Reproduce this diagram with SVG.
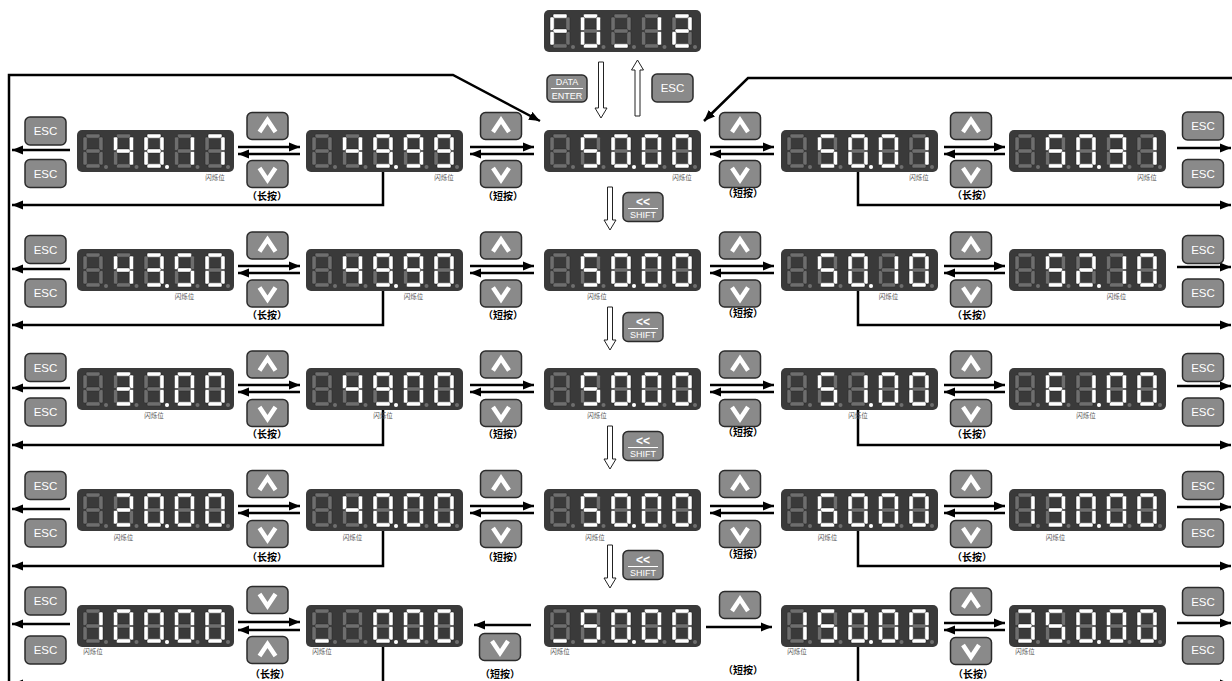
<svg xmlns="http://www.w3.org/2000/svg" xmlns:xlink="http://www.w3.org/1999/xlink" width="1232" height="681" viewBox="0 0 1232 681">
<style>
.btn{fill:#8a8a8a;stroke:#2b2b2b;stroke-width:1.5}
.chev{fill:none;stroke:#fff;stroke-width:4.5;stroke-linejoin:miter}
.bt{font-family:"Liberation Sans",Arial,sans-serif;fill:#fff;text-anchor:middle}
.esc{font-size:11.5px}
.blink{font-family:"Noto Sans CJK SC",sans-serif;font-size:6.5px;fill:#555;text-anchor:middle}
.lbl{font-family:"Noto Sans CJK SC",sans-serif;font-size:10px;font-weight:bold;fill:#000;text-anchor:middle}
.arr{fill:none;stroke:#000;stroke-width:2.5;marker-end:url(#ah)}
.on{fill:#fff}
.hol{fill:#fff;stroke:#222;stroke-width:1}
</style>
<defs>
<marker id="ah" markerUnits="userSpaceOnUse" markerWidth="11" markerHeight="10" refX="11" refY="5" orient="auto"><path d="M0,0.5 L11,5 L0,9.5 z" fill="#000"/></marker>
<rect id="sa" x="3" y="0" width="14" height="4.2" rx="1.2" stroke="#2a2a2a" stroke-width="0.5"/>
<rect id="sb" x="15.8" y="3" width="4.2" height="13.5" rx="1.2" stroke="#2a2a2a" stroke-width="0.5"/>
<rect id="sc" x="15.8" y="17.5" width="4.2" height="13.5" rx="1.2" stroke="#2a2a2a" stroke-width="0.5"/>
<rect id="sd" x="3" y="29.8" width="14" height="4.2" rx="1.2" stroke="#2a2a2a" stroke-width="0.5"/>
<rect id="se" x="0" y="17.5" width="4.2" height="13.5" rx="1.2" stroke="#2a2a2a" stroke-width="0.5"/>
<rect id="sf" x="0" y="3" width="4.2" height="13.5" rx="1.2" stroke="#2a2a2a" stroke-width="0.5"/>
<rect id="sg" x="3" y="14.9" width="14" height="4.2" rx="1.2" stroke="#2a2a2a" stroke-width="0.5"/>
<g id="n0"><use href="#sa"/><use href="#sb"/><use href="#sc"/><use href="#sd"/><use href="#se"/><use href="#sf"/></g>
<g id="n1"><use href="#sb"/><use href="#sc"/></g>
<g id="n2"><use href="#sa"/><use href="#sb"/><use href="#sg"/><use href="#se"/><use href="#sd"/></g>
<g id="n3"><use href="#sa"/><use href="#sb"/><use href="#sg"/><use href="#sc"/><use href="#sd"/></g>
<g id="n4"><use href="#sf"/><use href="#sg"/><use href="#sb"/><use href="#sc"/></g>
<g id="n5"><use href="#sa"/><use href="#sf"/><use href="#sg"/><use href="#sc"/><use href="#sd"/></g>
<g id="n6"><use href="#sa"/><use href="#sf"/><use href="#sg"/><use href="#se"/><use href="#sd"/><use href="#sc"/></g>
<g id="n7"><use href="#sa"/><use href="#sb"/><use href="#sc"/></g>
<g id="n8"><use href="#sa"/><use href="#sb"/><use href="#sc"/><use href="#sd"/><use href="#se"/><use href="#sf"/><use href="#sg"/></g>
<g id="n9"><use href="#sa"/><use href="#sb"/><use href="#sc"/><use href="#sd"/><use href="#sf"/><use href="#sg"/></g>
<g id="nF"><use href="#sa"/><use href="#sf"/><use href="#sg"/><use href="#se"/></g>
<g id="nu"><use href="#sd"/></g>
<g id="disp">
<rect width="157" height="42" rx="5" fill="#3a3a3a"/>
<g fill="#6e6e6e">
<use href="#n8" x="6" y="4"/><use href="#n8" x="36.5" y="4"/><use href="#n8" x="67" y="4"/><use href="#n8" x="97.5" y="4"/><use href="#n8" x="128" y="4"/>
<circle cx="29" cy="37" r="2"/><circle cx="59.5" cy="37" r="2"/><circle cx="90" cy="37" r="2"/><circle cx="120.5" cy="37" r="2"/><circle cx="151" cy="37" r="2"/>
</g>
</g>
<g id="bup"><rect x="-20.5" y="-13.5" width="41" height="27" rx="5" class="btn"/><polyline points="-8,6 0,-6 8,6" class="chev"/></g>
<g id="bdn"><rect x="-20.5" y="-13.5" width="41" height="27" rx="5" class="btn"/><polyline points="-8,-6 0,6 8,-6" class="chev"/></g>
<g id="besc"><rect x="-20.5" y="-14" width="41" height="28" rx="5" class="btn"/><text y="4" class="bt esc">ESC</text></g>
<g id="bshift"><rect x="-20" y="-14.5" width="40" height="29" rx="5" class="btn"/><text y="-1.5" class="bt" font-size="12" font-weight="bold">&lt;&lt;</text><line x1="-15" y1="1.5" x2="15" y2="1.5" stroke="#fff" stroke-width="1"/><text y="11" class="bt" font-size="9">SHIFT</text></g>
</defs>
<rect width="1232" height="681" fill="#fff"/>

<g id="connectors">
<path d="M9,681 V75 H453 L540,121" class="arr" stroke-width="3"/>
<path d="M1232,78 H748 L704,121" class="arr" stroke-width="3"/>
<path d="M598.5,62 H603.5 V108 H607 L601,118 L595,108 H598.5 Z" class="hol"/>
<path d="M635,116 V70 H631.5 L637.5,60 L643.5,70 H640 V116 Z" class="hol"/>
<path d="M607.5,187 H612.5 V220 H616 L610,230 L604,220 H607.5 Z" class="hol"/>
<path d="M607.5,307 H612.5 V340 H616 L610,350 L604,340 H607.5 Z" class="hol"/>
<path d="M607.5,426 H612.5 V459 H616 L610,469 L604,459 H607.5 Z" class="hol"/>
<path d="M607.5,545 H612.5 V578 H616 L610,588 L604,578 H607.5 Z" class="hol"/>
<!-- row 1 -->
<line x1="70" y1="150" x2="12" y2="150" class="arr"/>
<line x1="238" y1="147" x2="300" y2="147" class="arr"/><line x1="300" y1="154" x2="238" y2="154" class="arr"/>
<line x1="470" y1="147" x2="534" y2="147" class="arr"/><line x1="534" y1="154" x2="470" y2="154" class="arr"/>
<line x1="710" y1="147" x2="774" y2="147" class="arr"/><line x1="774" y1="154" x2="710" y2="154" class="arr"/>
<line x1="944" y1="147" x2="1005" y2="147" class="arr"/><line x1="1005" y1="154" x2="944" y2="154" class="arr"/>
<line x1="1177" y1="148" x2="1231" y2="148" class="arr"/>
<polyline points="383,172 383,205 12,205" class="arr"/>
<polyline points="858,172 858,205 1231,205" class="arr"/>
<!-- row 2 -->
<line x1="70" y1="269" x2="12" y2="269" class="arr"/>
<line x1="238" y1="266" x2="300" y2="266" class="arr"/><line x1="300" y1="273" x2="238" y2="273" class="arr"/>
<line x1="470" y1="266" x2="534" y2="266" class="arr"/><line x1="534" y1="273" x2="470" y2="273" class="arr"/>
<line x1="710" y1="266" x2="774" y2="266" class="arr"/><line x1="774" y1="273" x2="710" y2="273" class="arr"/>
<line x1="944" y1="266" x2="1005" y2="266" class="arr"/><line x1="1005" y1="273" x2="944" y2="273" class="arr"/>
<line x1="1177" y1="267" x2="1231" y2="267" class="arr"/>
<polyline points="383,291 383,325 12,325" class="arr"/>
<polyline points="858,291 858,325 1231,325" class="arr"/>
<!-- row 3 -->
<line x1="70" y1="388" x2="12" y2="388" class="arr"/>
<line x1="238" y1="385" x2="300" y2="385" class="arr"/><line x1="300" y1="392" x2="238" y2="392" class="arr"/>
<line x1="470" y1="385" x2="534" y2="385" class="arr"/><line x1="534" y1="392" x2="470" y2="392" class="arr"/>
<line x1="710" y1="385" x2="774" y2="385" class="arr"/><line x1="774" y1="392" x2="710" y2="392" class="arr"/>
<line x1="944" y1="385" x2="1005" y2="385" class="arr"/><line x1="1005" y1="392" x2="944" y2="392" class="arr"/>
<line x1="1177" y1="386" x2="1231" y2="386" class="arr"/>
<polyline points="383,410 383,445 12,445" class="arr"/>
<polyline points="858,410 858,445 1231,445" class="arr"/>
<!-- row 4 -->
<line x1="70" y1="509" x2="12" y2="509" class="arr"/>
<line x1="238" y1="506" x2="300" y2="506" class="arr"/><line x1="300" y1="513" x2="238" y2="513" class="arr"/>
<line x1="470" y1="506" x2="534" y2="506" class="arr"/><line x1="534" y1="513" x2="470" y2="513" class="arr"/>
<line x1="710" y1="506" x2="774" y2="506" class="arr"/><line x1="774" y1="513" x2="710" y2="513" class="arr"/>
<line x1="944" y1="506" x2="1005" y2="506" class="arr"/><line x1="1005" y1="513" x2="944" y2="513" class="arr"/>
<line x1="1177" y1="507" x2="1231" y2="507" class="arr"/>
<polyline points="383,531 383,566 12,566" class="arr"/>
<polyline points="858,531 858,566 1231,566" class="arr"/>
<!-- row 5 -->
<line x1="70" y1="624" x2="12" y2="624" class="arr"/>
<line x1="238" y1="622" x2="300" y2="622" class="arr"/><line x1="300" y1="630" x2="238" y2="630" class="arr"/>
<line x1="531" y1="625" x2="474" y2="625" class="arr"/>
<line x1="706" y1="627" x2="772" y2="627" class="arr"/>
<line x1="944" y1="623" x2="1005" y2="623" class="arr"/><line x1="1005" y1="630" x2="944" y2="630" class="arr"/>
<line x1="1177" y1="623" x2="1231" y2="623" class="arr"/>
<polyline points="383,647 383,684 12,684" class="arr"/>
<polyline points="858,647 858,684 1231,684" class="arr"/>
</g>

<!-- top -->
<g id="top"><g transform="translate(544,10)"><use href="#disp"/><g class="on"><use href="#nF" x="6" y="4"/><use href="#n0" x="36.5" y="4"/><use href="#nu" x="67" y="4"/><use href="#n1" x="97.5" y="4"/><use href="#n2" x="128" y="4"/></g></g></g>
<g id="btn-data"><rect x="547" y="75" width="40" height="27" rx="5" class="btn"/><text x="567" y="85" class="bt" font-size="9">DATA</text><line x1="551" y1="88.5" x2="583" y2="88.5" stroke="#fff" stroke-width="1"/><text x="567" y="99" class="bt" font-size="9">ENTER</text></g>
<g id="btn-esc-top"><use href="#besc" x="672.5" y="88"/></g>
<g id="shift1"><use href="#bshift" x="643" y="207"/></g>
<g id="shift2"><use href="#bshift" x="643" y="327"/></g>
<g id="shift3"><use href="#bshift" x="643" y="446"/></g>
<g id="shift4"><use href="#bshift" x="643" y="565"/></g>

<!-- row 1 -->
<g id="r1a" transform="translate(77,130)"><use href="#disp"/><g class="on"><use href="#n4" x="36.5" y="4"/><use href="#n8" x="67" y="4"/><circle cx="90" cy="37" r="2"/><use href="#n1" x="97.5" y="4"/><use href="#n7" x="128" y="4"/></g><text class="blink" x="138" y="50">闪烁位</text></g>
<g id="r1b" transform="translate(306,130)"><use href="#disp"/><g class="on"><use href="#n4" x="36.5" y="4"/><use href="#n9" x="67" y="4"/><circle cx="90" cy="37" r="2"/><use href="#n9" x="97.5" y="4"/><use href="#n9" x="128" y="4"/></g><text class="blink" x="138" y="50">闪烁位</text></g>
<g id="r1c" transform="translate(544,130)"><use href="#disp"/><g class="on"><use href="#n5" x="36.5" y="4"/><use href="#n0" x="67" y="4"/><circle cx="90" cy="37" r="2"/><use href="#n0" x="97.5" y="4"/><use href="#n0" x="128" y="4"/></g><text class="blink" x="138" y="50">闪烁位</text></g>
<g id="r1d" transform="translate(781,130)"><use href="#disp"/><g class="on"><use href="#n5" x="36.5" y="4"/><use href="#n0" x="67" y="4"/><circle cx="90" cy="37" r="2"/><use href="#n0" x="97.5" y="4"/><use href="#n1" x="128" y="4"/></g><text class="blink" x="138" y="50">闪烁位</text></g>
<g id="r1e" transform="translate(1009,130)"><use href="#disp"/><g class="on"><use href="#n5" x="36.5" y="4"/><use href="#n0" x="67" y="4"/><circle cx="90" cy="37" r="2"/><use href="#n3" x="97.5" y="4"/><use href="#n1" x="128" y="4"/></g><text class="blink" x="138" y="50">闪烁位</text></g>
<g id="r1-buttons">
<use href="#besc" x="45.5" y="131"/><use href="#besc" x="45.5" y="173.5"/>
<use href="#bup" x="267.5" y="126"/><use href="#bdn" x="267.5" y="174"/>
<use href="#bup" x="501" y="126"/><use href="#bdn" x="501" y="174"/>
<use href="#bup" x="740" y="126"/><use href="#bdn" x="740" y="174"/>
<use href="#bup" x="971" y="126"/><use href="#bdn" x="971" y="174"/>
<use href="#besc" x="1203" y="126"/><use href="#besc" x="1203" y="173.5"/>
<text class="lbl" x="267" y="200">（长按）</text><text class="lbl" x="503" y="200">（短按）</text><text class="lbl" x="743" y="197">（短按）</text><text class="lbl" x="972" y="199">（长按）</text>
</g>

<!-- row 2 -->
<g id="r2a" transform="translate(77,249)"><use href="#disp"/><g class="on"><use href="#n4" x="36.5" y="4"/><use href="#n3" x="67" y="4"/><circle cx="90" cy="37" r="2"/><use href="#n5" x="97.5" y="4"/><use href="#n0" x="128" y="4"/></g><text class="blink" x="107.5" y="50">闪烁位</text></g>
<g id="r2b" transform="translate(306,249)"><use href="#disp"/><g class="on"><use href="#n4" x="36.5" y="4"/><use href="#n9" x="67" y="4"/><circle cx="90" cy="37" r="2"/><use href="#n9" x="97.5" y="4"/><use href="#n0" x="128" y="4"/></g><text class="blink" x="107.5" y="50">闪烁位</text></g>
<g id="r2c" transform="translate(544,249)"><use href="#disp"/><g class="on"><use href="#n5" x="36.5" y="4"/><use href="#n0" x="67" y="4"/><circle cx="90" cy="37" r="2"/><use href="#n0" x="97.5" y="4"/><use href="#n0" x="128" y="4"/></g><text class="blink" x="53" y="50">闪烁位</text></g>
<g id="r2d" transform="translate(781,249)"><use href="#disp"/><g class="on"><use href="#n5" x="36.5" y="4"/><use href="#n0" x="67" y="4"/><circle cx="90" cy="37" r="2"/><use href="#n1" x="97.5" y="4"/><use href="#n0" x="128" y="4"/></g><text class="blink" x="107.5" y="50">闪烁位</text></g>
<g id="r2e" transform="translate(1009,249)"><use href="#disp"/><g class="on"><use href="#n5" x="36.5" y="4"/><use href="#n2" x="67" y="4"/><circle cx="90" cy="37" r="2"/><use href="#n1" x="97.5" y="4"/><use href="#n0" x="128" y="4"/></g><text class="blink" x="107.5" y="50">闪烁位</text></g>
<g id="r2-buttons">
<use href="#besc" x="45.5" y="249.5"/><use href="#besc" x="45.5" y="293"/>
<use href="#bup" x="267.5" y="245.5"/><use href="#bdn" x="267.5" y="293.5"/>
<use href="#bup" x="501" y="245.5"/><use href="#bdn" x="501" y="293.5"/>
<use href="#bup" x="740" y="245.5"/><use href="#bdn" x="740" y="293.5"/>
<use href="#bup" x="971" y="245.5"/><use href="#bdn" x="971" y="293.5"/>
<use href="#besc" x="1203" y="249.5"/><use href="#besc" x="1203" y="293"/>
<text class="lbl" x="267" y="319">（长按）</text><text class="lbl" x="503" y="319">（短按）</text><text class="lbl" x="743" y="317">（短按）</text><text class="lbl" x="972" y="319">（长按）</text>
</g>

<!-- row 3 -->
<g id="r3a" transform="translate(77,368)"><use href="#disp"/><g class="on"><use href="#n3" x="36.5" y="4"/><use href="#n7" x="67" y="4"/><circle cx="90" cy="37" r="2"/><use href="#n0" x="97.5" y="4"/><use href="#n0" x="128" y="4"/></g><text class="blink" x="77" y="50">闪烁位</text></g>
<g id="r3b" transform="translate(306,368)"><use href="#disp"/><g class="on"><use href="#n4" x="36.5" y="4"/><use href="#n9" x="67" y="4"/><circle cx="90" cy="37" r="2"/><use href="#n0" x="97.5" y="4"/><use href="#n0" x="128" y="4"/></g><text class="blink" x="77" y="50">闪烁位</text></g>
<g id="r3c" transform="translate(544,368)"><use href="#disp"/><g class="on"><use href="#n5" x="36.5" y="4"/><use href="#n0" x="67" y="4"/><circle cx="90" cy="37" r="2"/><use href="#n0" x="97.5" y="4"/><use href="#n0" x="128" y="4"/></g><text class="blink" x="53" y="50">闪烁位</text></g>
<g id="r3d" transform="translate(781,368)"><use href="#disp"/><g class="on"><use href="#n5" x="36.5" y="4"/><use href="#n1" x="67" y="4"/><circle cx="90" cy="37" r="2"/><use href="#n0" x="97.5" y="4"/><use href="#n0" x="128" y="4"/></g><text class="blink" x="77" y="50">闪烁位</text></g>
<g id="r3e" transform="translate(1009,368)"><use href="#disp"/><g class="on"><use href="#n6" x="36.5" y="4"/><use href="#n1" x="67" y="4"/><circle cx="90" cy="37" r="2"/><use href="#n0" x="97.5" y="4"/><use href="#n0" x="128" y="4"/></g><text class="blink" x="77" y="50">闪烁位</text></g>
<g id="r3-buttons">
<use href="#besc" x="45.5" y="367.5"/><use href="#besc" x="45.5" y="412"/>
<use href="#bup" x="267.5" y="364.5"/><use href="#bdn" x="267.5" y="413"/>
<use href="#bup" x="501" y="364.5"/><use href="#bdn" x="501" y="413"/>
<use href="#bup" x="740" y="364.5"/><use href="#bdn" x="740" y="413"/>
<use href="#bup" x="971" y="364.5"/><use href="#bdn" x="971" y="413"/>
<use href="#besc" x="1203" y="367.5"/><use href="#besc" x="1203" y="412"/>
<text class="lbl" x="267" y="438">（长按）</text><text class="lbl" x="503" y="438">（短按）</text><text class="lbl" x="743" y="436">（短按）</text><text class="lbl" x="972" y="438">（长按）</text>
</g>

<!-- row 4 -->
<g id="r4a" transform="translate(77,489)"><use href="#disp"/><g class="on"><use href="#n2" x="36.5" y="4"/><use href="#n0" x="67" y="4"/><circle cx="90" cy="37" r="2"/><use href="#n0" x="97.5" y="4"/><use href="#n0" x="128" y="4"/></g><text class="blink" x="46.5" y="51">闪烁位</text></g>
<g id="r4b" transform="translate(306,489)"><use href="#disp"/><g class="on"><use href="#n4" x="36.5" y="4"/><use href="#n0" x="67" y="4"/><circle cx="90" cy="37" r="2"/><use href="#n0" x="97.5" y="4"/><use href="#n0" x="128" y="4"/></g><text class="blink" x="46.5" y="51">闪烁位</text></g>
<g id="r4c" transform="translate(544,489)"><use href="#disp"/><g class="on"><use href="#n5" x="36.5" y="4"/><use href="#n0" x="67" y="4"/><circle cx="90" cy="37" r="2"/><use href="#n0" x="97.5" y="4"/><use href="#n0" x="128" y="4"/></g><text class="blink" x="51" y="51">闪烁位</text></g>
<g id="r4d" transform="translate(781,489)"><use href="#disp"/><g class="on"><use href="#n6" x="36.5" y="4"/><use href="#n0" x="67" y="4"/><circle cx="90" cy="37" r="2"/><use href="#n0" x="97.5" y="4"/><use href="#n0" x="128" y="4"/></g><text class="blink" x="46.5" y="51">闪烁位</text></g>
<g id="r4e" transform="translate(1009,489)"><use href="#disp"/><g class="on"><use href="#n1" x="6" y="4"/><use href="#n3" x="36.5" y="4"/><use href="#n0" x="67" y="4"/><circle cx="90" cy="37" r="2"/><use href="#n0" x="97.5" y="4"/><use href="#n0" x="128" y="4"/></g><text class="blink" x="46.5" y="51">闪烁位</text></g>
<g id="r4-buttons">
<use href="#besc" x="45.5" y="485.5"/><use href="#besc" x="45.5" y="533"/>
<use href="#bup" x="267.5" y="484"/><use href="#bdn" x="267.5" y="534"/>
<use href="#bup" x="501" y="484"/><use href="#bdn" x="501" y="534"/>
<use href="#bup" x="740" y="484"/><use href="#bdn" x="740" y="534"/>
<use href="#bup" x="971" y="484"/><use href="#bdn" x="971" y="534"/>
<use href="#besc" x="1203" y="485.5"/><use href="#besc" x="1203" y="533"/>
<text class="lbl" x="267" y="561">（长按）</text><text class="lbl" x="503" y="561">（短按）</text><text class="lbl" x="743" y="558">（短按）</text><text class="lbl" x="972" y="561">（长按）</text>
</g>

<!-- row 5 -->
<g id="r5a" transform="translate(77,605)"><use href="#disp"/><g class="on"><use href="#n1" x="6" y="4"/><use href="#n0" x="36.5" y="4"/><use href="#n0" x="67" y="4"/><circle cx="90" cy="37" r="2"/><use href="#n0" x="97.5" y="4"/><use href="#n0" x="128" y="4"/></g><text class="blink" x="16" y="48.5">闪烁位</text></g>
<g id="r5b" transform="translate(306,605)"><use href="#disp"/><g class="on"><use href="#nu" x="6" y="4"/><use href="#n0" x="67" y="4"/><circle cx="90" cy="37" r="2"/><use href="#n0" x="97.5" y="4"/><use href="#n0" x="128" y="4"/></g><text class="blink" x="16" y="48.5">闪烁位</text></g>
<g id="r5c" transform="translate(544,605)"><use href="#disp"/><g class="on"><use href="#nu" x="6" y="4"/><use href="#n5" x="36.5" y="4"/><use href="#n0" x="67" y="4"/><circle cx="90" cy="37" r="2"/><use href="#n0" x="97.5" y="4"/><use href="#n0" x="128" y="4"/></g><text class="blink" x="16" y="48.5">闪烁位</text></g>
<g id="r5d" transform="translate(781,605)"><use href="#disp"/><g class="on"><use href="#n1" x="6" y="4"/><use href="#n5" x="36.5" y="4"/><use href="#n0" x="67" y="4"/><circle cx="90" cy="37" r="2"/><use href="#n0" x="97.5" y="4"/><use href="#n0" x="128" y="4"/></g><text class="blink" x="16" y="48.5">闪烁位</text></g>
<g id="r5e" transform="translate(1009,605)"><use href="#disp"/><g class="on"><use href="#n3" x="6" y="4"/><use href="#n5" x="36.5" y="4"/><use href="#n0" x="67" y="4"/><circle cx="90" cy="37" r="2"/><use href="#n0" x="97.5" y="4"/><use href="#n0" x="128" y="4"/></g><text class="blink" x="16" y="48.5">闪烁位</text></g>
<g id="r5-buttons">
<use href="#besc" x="45.5" y="601"/><use href="#besc" x="45.5" y="650"/>
<use href="#bdn" x="267.5" y="600"/><use href="#bup" x="267.5" y="650"/>
<use href="#bdn" x="500" y="647"/>
<use href="#bup" x="740" y="605"/>
<use href="#bup" x="971" y="601.5"/><use href="#bdn" x="971" y="651"/>
<use href="#besc" x="1203" y="601.5"/><use href="#besc" x="1203" y="650"/>
<text class="lbl" x="270" y="677.5">（长按）</text><text class="lbl" x="500" y="677.5">（短按）</text><text class="lbl" x="743" y="673.5">（短按）</text><text class="lbl" x="973" y="677.5">（长按）</text>
</g>
</svg>
